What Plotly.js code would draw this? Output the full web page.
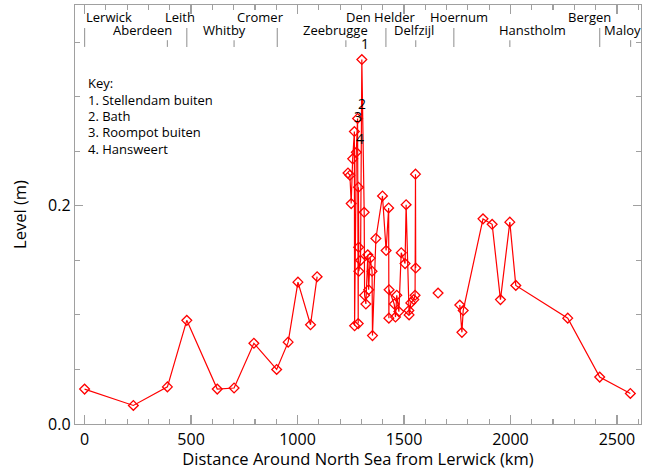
<!DOCTYPE html>
<html>
<head>
<meta charset="utf-8">
<script src="https://cdn.plot.ly/plotly-3.0.1.min.js"></script>
<style>
html,body{margin:0;padding:0;background:#fff;}
#chart{width:648px;height:470px;}
</style>
</head>
<body>
<div id="chart"></div>
<script>
// Distance around the North Sea from Lerwick (km); null = gap in the line
var distanceKm = [0, 229, 389, 480, 623, 702, 795, 902, 956, 1002, 1061, 1092, null,
  1237, 1246, 1252, 1259, 1267, 1268, 1276, 1282, 1285, 1286, 1287, 1288, 1296, 1302,
  1313, 1315, 1321, 1330, 1334, 1341, 1350, 1352, 1368, 1399, 1416, 1428, 1429, 1430,
  1454, 1460, 1466, 1476, 1487, 1505, 1510, 1523, 1524, 1532, 1546, 1552, 1554, 1555, null,
  1660, null,
  1762, 1772, 1778, 1871, 1914, 1953, 1997, 2025, 2269, 2419, 2563];
// Level (m)
var levelM = [0.032, 0.017, 0.034, 0.095, 0.032, 0.033, 0.074, 0.050, 0.075, 0.130, 0.091, 0.135, null,
  0.230, 0.228, 0.202, 0.243, 0.268, 0.090, 0.249, 0.280, 0.092, 0.217, 0.162, 0.140, 0.150, 0.334,
  0.194, 0.118, 0.110, 0.155, 0.123, 0.152, 0.140, 0.081, 0.170, 0.209, 0.159, 0.198, 0.097, 0.123,
  0.110, 0.098, 0.118, 0.103, 0.157, 0.147, 0.201, 0.104, 0.100, 0.111, 0.114, 0.118, 0.229, 0.143, null,
  0.120, null,
  0.109, 0.084, 0.104, 0.188, 0.183, 0.114, 0.185, 0.127, 0.097, 0.043, 0.028];

// Reference places along the coast (top axis)
var placeNames = ["Lerwick", "Aberdeen", "Leith", "Whitby", "Cromer", "Zeebrugge",
  "Den Helder", "Delfzijl", "Hoernum", "Hanstholm", "Bergen", "Maloy"];
var placeKm = [0, 389, 480, 702, 905, 1227, 1415, 1555, 1734, 1997, 2419, 2564];
var placeLabelKm = [113, 272, 450, 657, 828, 1178, 1391, 1546, 1760, 2105, 2370, 2527];
var placeRow = [1, 2, 1, 2, 1, 2, 1, 2, 1, 2, 1, 2];

// Numbered stations
var keyNumbers = ["1", "2", "3", "4"];
var keyNames = ["Stellendam buiten", "Bath", "Roompot buiten", "Hansweert"];
var keyKm = [1316, 1302, 1284, 1293];
var keyLevel = [0.349, 0.294, 0.282, 0.262];

var FONT = "'Open Sans', 'Noto Sans', sans-serif";
var AXC = "#a0a0a0";

var trace = {
  x: distanceKm, y: levelM,
  type: "scatter", mode: "lines+markers",
  connectgaps: false,
  line: {color: "#ff0000", width: 1.2},
  marker: {symbol: "diamond-open", size: 7.5, color: "#ff0000", line: {width: 1.3, color: "#ff0000"}},
  hoverinfo: "x+y"
};

var shapes = [];
var annotations = [];
for (var i = 0; i < placeNames.length; i++) {
  var r1 = placeRow[i] === 1;
  shapes.push({type: "line", xref: "x", yref: "paper", x0: placeKm[i], x1: placeKm[i],
    y0: 0.900, y1: r1 ? 0.945 : 0.916, line: {color: AXC, width: 1.2}});
  annotations.push({xref: "x", yref: "paper", x: placeLabelKm[i], y: r1 ? 0.972 : 0.940,
    text: placeNames[i], showarrow: false, xanchor: "center", yanchor: "middle",
    font: {family: FONT, size: 13, color: "#000"}});
}
for (var k = 0; k < keyNumbers.length; k++) {
  annotations.push({xref: "x", yref: "y", x: keyKm[k], y: keyLevel[k], text: keyNumbers[k],
    showarrow: false, xanchor: "center", yanchor: "middle",
    font: {family: FONT, size: 14, color: "#000"}});
}
var keyLines = ["Key:"];
for (var k2 = 0; k2 < keyNames.length; k2++) keyLines.push(keyNumbers[k2] + ". " + keyNames[k2]);
for (var j = 0; j < keyLines.length; j++) {
  annotations.push({xref: "paper", yref: "paper", x: 0.02, y: 0.813 - j * 0.0389,
    text: keyLines[j], showarrow: false, xanchor: "left", yanchor: "middle",
    font: {family: FONT, size: 13, color: "#000"}});
}

var layout = {
  width: 648, height: 470,
  margin: {l: 75, r: 7, t: 5, b: 46},
  paper_bgcolor: "#fff", plot_bgcolor: "#fff",
  showlegend: false,
  font: {family: FONT, color: "#000"},
  xaxis: {
    range: [-45, 2613], tick0: 0, dtick: 500,
    ticks: "inside", ticklen: 9, tickwidth: 1.2, tickcolor: AXC,
    minor: {dtick: 100, ticks: "inside", ticklen: 5, tickcolor: AXC, tickwidth: 1.2},
    showline: true, linecolor: AXC, linewidth: 1.2, mirror: "ticks",
    showgrid: false, zeroline: false, ticklabelstandoff: 1,
    tickfont: {family: FONT, size: 16, color: "#000"},
    title: {text: "Distance Around North Sea from Lerwick (km)", font: {family: FONT, size: 16.5, color: "#000"}, standoff: 0}
  },
  yaxis: {
    range: [0, 0.384], tick0: 0, dtick: 0.2, tickformat: ".1f",
    ticks: "inside", ticklen: 8, tickwidth: 1.2, tickcolor: AXC,
    minor: {dtick: 0.05, ticks: "inside", ticklen: 5, tickcolor: AXC, tickwidth: 1.2},
    showline: true, linecolor: AXC, linewidth: 1.2, mirror: "ticks",
    showgrid: false, zeroline: false,
    tickfont: {family: FONT, size: 16, color: "#000"},
    title: {text: "Level (m)", font: {family: FONT, size: 16.5, color: "#000"}, standoff: 17}
  },
  shapes: shapes,
  annotations: annotations
};

Plotly.newPlot("chart", [trace], layout, {staticPlot: true, displayModeBar: false});
</script>
</body>
</html>
